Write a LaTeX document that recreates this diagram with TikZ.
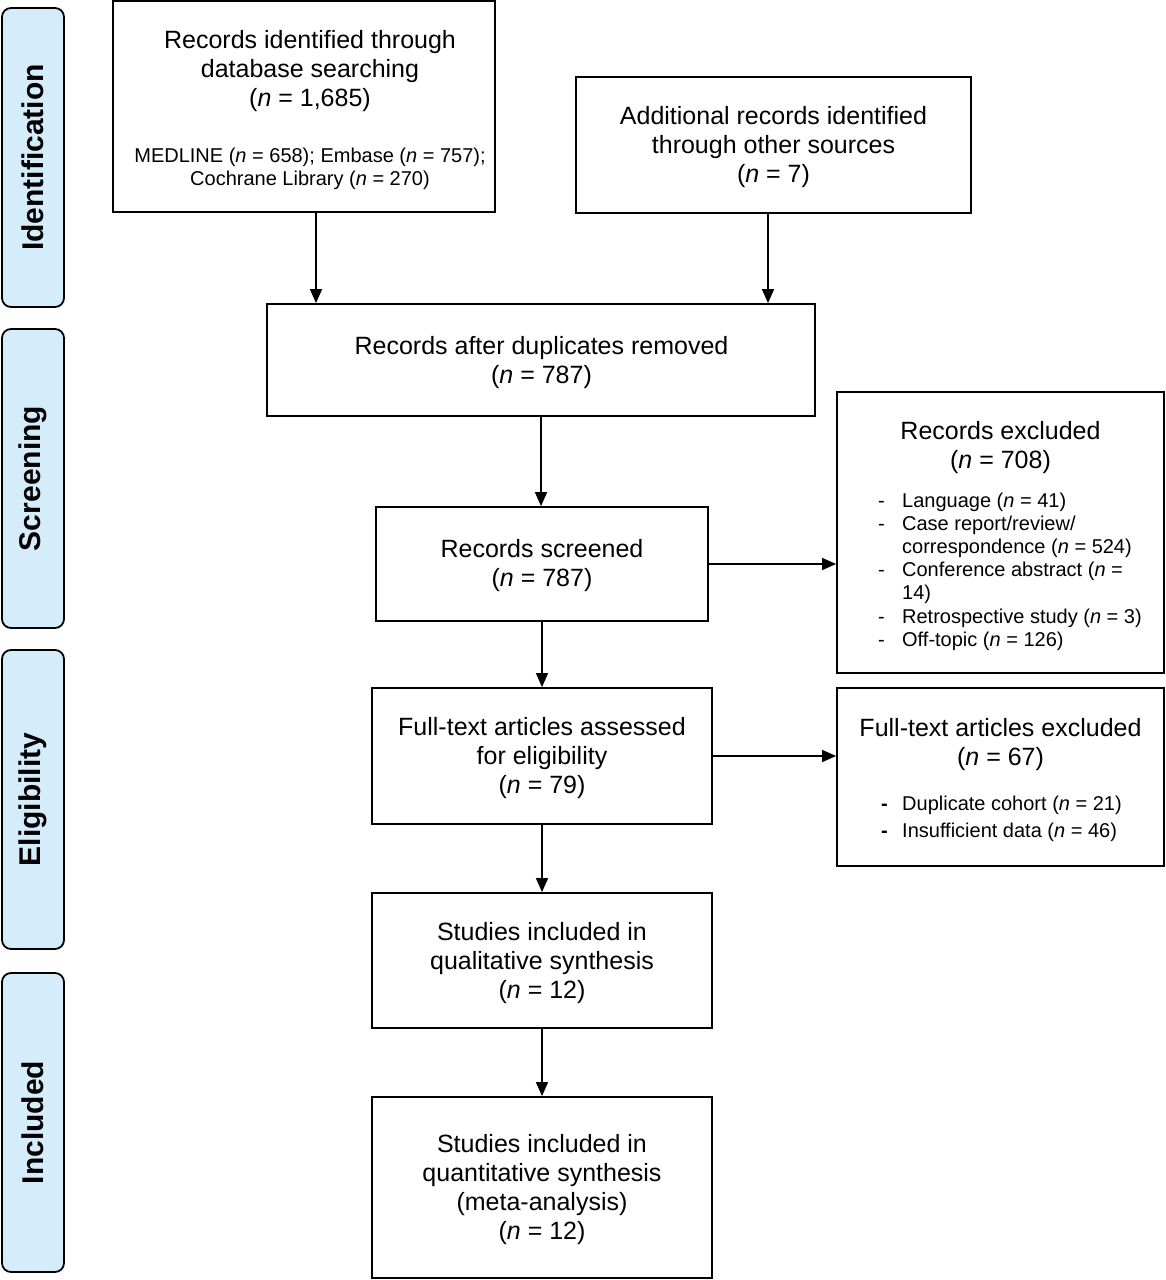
\documentclass[tikz,border=0pt]{standalone}
\usepackage{fontspec}
\setmainfont{Liberation Sans}
\usetikzlibrary{arrows.meta}
\definecolor{sidefill}{RGB}{213,236,251}
\begin{document}
\begin{tikzpicture}[x=1pt,y=-1pt,
  box/.style={draw=black, line width=1.8pt, inner sep=0pt, fill=white},
  maintxt/.style={align=center, inner sep=0pt, font=\fontsize{25}{29}\selectfont},
  smalltxt/.style={align=center, inner sep=0pt, font=\fontsize{20}{23}\selectfont},
  listtxt/.style={align=left, inner sep=0pt, anchor=west, font=\fontsize{20}{23.2}\selectfont},
  side/.style={draw=black, line width=1.8pt, fill=sidefill, rounded corners=9pt, rotate=90,
    minimum width=299pt, minimum height=62pt, inner sep=0pt,
    font=\fontsize{30}{34}\selectfont\bfseries},
  arr/.style={line width=1.5pt, -{Triangle[length=14pt,width=12pt]}}
]
\useasboundingbox (0,0) rectangle (1165,1280);

% side labels
\node[side] (sid) at (33,157.5) {Identification};
\node[side] (ssc) at (33,478.5) {Screening};
\node[side] (sel) at (33,799.5) {Eligibility};
\node[side] (sin) at (33,1122.5) {Included};

% boxes
\node[box, minimum width=382pt, minimum height=211pt] (b1) at (304,106.5) {};
\node[maintxt] (b1t) at (310,71) {Records identified through\\database searching\\(\textit{n} = 1,685)};
\node[smalltxt] (b1s) at (310,169) {MEDLINE (\textit{n} = 658); Embase (\textit{n} = 757);\\Cochrane Library (\textit{n} = 270)};

\node[box, minimum width=395pt, minimum height=136pt] (b2) at (773.5,145) {};
\node[maintxt] (b2t) at (773.5,147) {Additional records identified\\through other sources\\(\textit{n} = 7)};

\node[box, minimum width=548pt, minimum height=112pt] (b3) at (541,360) {};
\node[maintxt] (b3t) at (541.5,363) {Records after duplicates removed\\(\textit{n} = 787)};

\node[box, minimum width=332pt, minimum height=114pt] (b4) at (542,564) {};
\node[maintxt] (b4t) at (542,566) {Records screened\\(\textit{n} = 787)};

\node[box, minimum width=327pt, minimum height=281pt] (b5) at (1000.5,532.5) {};
\node[maintxt] (b5t) at (1000.5,448) {Records excluded\\(\textit{n} = 708)};
\node[listtxt] (b5l) at (878,571.5) {\makebox[24pt][l]{-}Language (\textit{n} = 41)\\
\makebox[24pt][l]{-}Case report/review/\\
\hspace*{24pt}correspondence (\textit{n} = 524)\\
\makebox[24pt][l]{-}Conference abstract (\textit{n} =\\
\hspace*{24pt}14)\\
\makebox[24pt][l]{-}Retrospective study (\textit{n} = 3)\\
\makebox[24pt][l]{-}Off-topic (\textit{n} = 126)};

\node[box, minimum width=340pt, minimum height=136pt] (b6) at (542,756) {};
\node[maintxt] (b6t) at (542,758.5) {Full-text articles assessed\\for eligibility\\(\textit{n} = 79)};

\node[box, minimum width=327pt, minimum height=178pt] (b7) at (1000.5,777) {};
\node[maintxt] (b7t) at (1000.5,744.5) {Full-text articles excluded\\(\textit{n} = 67)};
\node[listtxt, font=\fontsize{20}{27}\selectfont] (b7l) at (881,818.5) {\makebox[21pt][l]{\textbf{-}}Duplicate cohort (\textit{n} = 21)\\
\makebox[21pt][l]{\textbf{-}}Insufficient data (\textit{n} = 46)};

\node[box, minimum width=340pt, minimum height=135pt] (b8) at (542,960.5) {};
\node[maintxt] (b8t) at (542,963) {Studies included in\\qualitative synthesis\\(\textit{n} = 12)};

\node[box, minimum width=340pt, minimum height=181pt] (b9) at (542,1187.5) {};
\node[maintxt] (b9t) at (542,1189.5) {Studies included in\\quantitative synthesis\\(meta-analysis)\\(\textit{n} = 12)};

% arrows
\draw[arr] ([xshift=12pt]b1.south) -- ([xshift=12pt]b1.south |- b3.north);
\draw[arr] ([xshift=-5.5pt]b2.south) -- ([xshift=-5.5pt]b2.south |- b3.north);
\draw[arr] (b3.south) -- (b3.south |- b4.north);
\draw[arr] (b4.east) -- (b4.east -| b5.west);
\draw[arr] (b4.south) -- (b4.south |- b6.north);
\draw[arr] (b6.east) -- (b6.east -| b7.west);
\draw[arr] (b6.south) -- (b6.south |- b8.north);
\draw[arr] (b8.south) -- (b8.south |- b9.north);
\end{tikzpicture}
\end{document}
